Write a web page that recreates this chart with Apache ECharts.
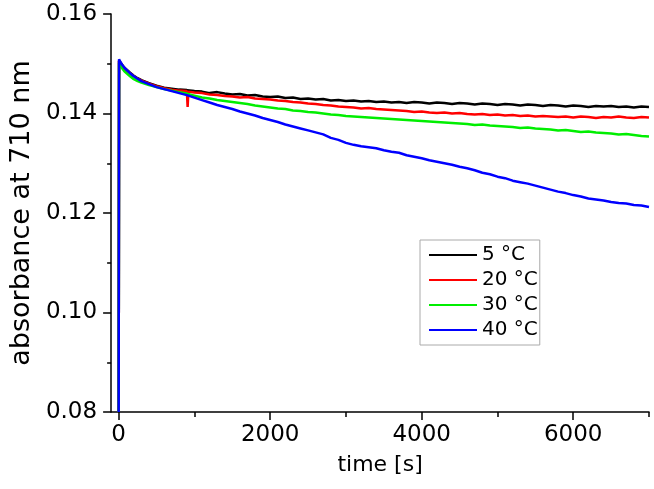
<!DOCTYPE html>
<html>
<head>
<meta charset="utf-8">
<script src="https://cdn.jsdelivr.net/npm/echarts@6/dist/echarts.min.js"></script>
<style>
html,body{margin:0;padding:0;background:#fff;}
#chart{width:654px;height:489px;}
</style>
</head>
<body>
<div id="chart"></div>
<script>
// time [s]
const times = [0,5,25,50,75,100,150,200,250,300,400,500,600,700,800,900,910,920,
1000,1100,1200,1300,1400,1500,1600,1700,1800,1900,
2000,2100,2200,2300,2400,2500,2600,2700,2800,2900,
3000,3100,3200,3300,3400,3500,3600,3700,3800,3900,
4000,4100,4200,4300,4400,4500,4600,4700,4800,4900,
5000,5100,5200,5300,5400,5500,5600,5700,5800,5900,
6000,6100,6200,6300,6400,6500,6600,6700,6800,6900,7000];

const seriesNames = ['5 °C','20 °C','30 °C','40 °C'];

const abs5 = [0.0800,0.1506,0.1502,0.1497,0.1492,0.1488,0.1482,0.1476,0.1471,0.1467,0.1461,0.1456,0.1452,0.1450,0.1448,0.1447,0.1446,0.1447,
0.1445,0.1444,0.1441,0.1443,0.1440,0.1438,0.1439,0.1436,0.1437,0.1434,
0.1433,0.1434,0.1431,0.1432,0.1429,0.1430,0.1428,0.1429,0.1426,0.1427,
0.1425,0.1426,0.1424,0.1425,0.1423,0.1424,0.1422,0.1423,0.1421,0.1423,
0.1422,0.1420,0.1422,0.1421,0.1419,0.1421,0.1420,0.1418,0.1420,0.1419,
0.1417,0.1419,0.1418,0.1416,0.1418,0.1417,0.1415,0.1417,0.1416,0.1414,
0.1416,0.1415,0.1413,0.1415,0.1414,0.1415,0.1413,0.1414,0.1412,0.1414,0.1413];

const abs20 = [0.0800,0.1506,0.1501,0.1496,0.1491,0.1487,0.1481,0.1475,0.1470,0.1466,0.1460,0.1455,0.1451,0.1448,0.1446,0.1445,0.1413,0.1444,
0.1442,0.1441,0.1438,0.1437,0.1435,0.1434,0.1432,0.1433,0.1430,0.1429,
0.1428,0.1426,0.1425,0.1423,0.1422,0.1420,0.1419,0.1417,0.1416,0.1414,
0.1413,0.1412,0.1410,0.1411,0.1409,0.1408,0.1407,0.1406,0.1405,0.1403,
0.1404,0.1402,0.1401,0.1402,0.1400,0.1401,0.1399,0.1398,0.1399,0.1397,
0.1398,0.1396,0.1397,0.1395,0.1396,0.1394,0.1395,0.1394,0.1393,0.1394,
0.1392,0.1394,0.1393,0.1391,0.1393,0.1392,0.1394,0.1392,0.1391,0.1393,0.1392];

const abs30 = [0.0800,0.1502,0.1496,0.1490,0.1485,0.1481,0.1475,0.1469,0.1465,0.1462,0.1457,0.1453,0.1449,0.1446,0.1443,0.1440,0.1439,0.1440,
0.1436,0.1432,0.1430,0.1427,0.1425,0.1423,0.1421,0.1419,0.1416,0.1414,
0.1412,0.1410,0.1409,0.1406,0.1405,0.1403,0.1402,0.1400,0.1398,0.1397,
0.1395,0.1394,0.1393,0.1392,0.1391,0.1390,0.1389,0.1388,0.1387,0.1386,
0.1385,0.1384,0.1383,0.1382,0.1381,0.1380,0.1379,0.1377,0.1378,0.1376,
0.1375,0.1374,0.1373,0.1371,0.1372,0.1370,0.1369,0.1368,0.1366,0.1367,
0.1365,0.1363,0.1364,0.1362,0.1361,0.1360,0.1358,0.1359,0.1357,0.1355,0.1354];

const abs40 = [0.0800,0.1509,0.1503,0.1497,0.1492,0.1488,0.1481,0.1475,0.1470,0.1465,0.1459,0.1453,0.1449,0.1445,0.1441,0.1437,0.1436,0.1436,
0.1432,0.1427,0.1422,0.1417,0.1413,0.1409,0.1404,0.1400,0.1396,0.1391,
0.1387,0.1383,0.1378,0.1374,0.1370,0.1366,0.1362,0.1358,0.1351,0.1347,
0.1341,0.1337,0.1334,0.1332,0.1330,0.1326,0.1323,0.1321,0.1316,0.1313,
0.1310,0.1306,0.1303,0.1300,0.1297,0.1293,0.1290,0.1286,0.1281,0.1278,
0.1273,0.1270,0.1265,0.1262,0.1259,0.1255,0.1251,0.1247,0.1243,0.1240,
0.1236,0.1233,0.1229,0.1227,0.1225,0.1222,0.1220,0.1219,0.1216,0.1215,0.1212];

const seriesValues = [abs5, abs20, abs30, abs40];
const seriesColors = ['#000000','#ff0000','#00ee00','#0000ff'];

const xMajorTicks = [0,2000,4000,6000];
const xMinorTicks = [1000,3000,5000,7000];

const FONT = 'DejaVu Sans';

const chart = echarts.init(document.getElementById('chart'), null, {renderer:'canvas'});

const option = {
  animation: false,
  backgroundColor: '#ffffff',
  textStyle: {fontFamily: FONT},
  grid: {left: 109, right: 5, top: 14, bottom: 77, containLabel: false},
  legend: {
    orient: 'vertical',
    left: 420,
    top: 240,
    padding: [5, 2, 5, 8],
    itemGap: 5,
    itemWidth: 48,
    itemHeight: 20,
    borderColor: '#aaaaaa',
    borderWidth: 1,
    backgroundColor: '#ffffff',
    itemStyle: {opacity: 0},
    textStyle: {fontFamily: FONT, fontSize: 20, color: '#000', lineHeight: 20},
    data: seriesNames
  },
  xAxis: [{
    type: 'value',
    min: -100,
    max: 7000,
    position: 'bottom',
    name: 'time [s]',
    nameLocation: 'middle',
    nameGap: 42,
    nameTextStyle: {fontFamily: FONT, fontSize: 22, color: '#000'},
    axisLine: {show: true, onZero: false, lineStyle: {color: '#000', width: 1.5}},
    axisTick: {show: true, inside: false, length: 8, customValues: xMajorTicks, lineStyle: {color: '#000', width: 1.5}},
    axisLabel: {show: true, margin: 12, customValues: xMajorTicks, fontFamily: FONT, fontSize: 23, color: '#000',
      formatter: function (v) { return String(Math.round(v)); }},
    splitLine: {show: false}
  }, {
    type: 'value',
    min: -100,
    max: 7000,
    position: 'bottom',
    axisLine: {show: false, onZero: false},
    axisTick: {show: true, inside: false, length: 5, customValues: xMinorTicks, lineStyle: {color: '#000', width: 1.5}},
    axisLabel: {show: false},
    splitLine: {show: false}
  }],
  yAxis: {
    type: 'value',
    min: 0.08,
    max: 0.16,
    interval: 0.02,
    name: 'absorbance at 710 nm',
    nameLocation: 'middle',
    nameGap: 72,
    nameTextStyle: {fontFamily: FONT, fontSize: 27, color: '#000'},
    axisLine: {show: true, onZero: false, lineStyle: {color: '#000', width: 1.5}},
    axisTick: {show: true, inside: false, length: 8, lineStyle: {color: '#000', width: 1.5}},
    minorTick: {show: true, splitNumber: 2, length: 4, lineStyle: {color: '#000', width: 1.5}},
    axisLabel: {show: true, margin: 14, fontFamily: FONT, fontSize: 23, color: '#000',
      formatter: function (v) { return v.toFixed(2); }},
    splitLine: {show: false},
    minorSplitLine: {show: false}
  },
  series: seriesNames.map(function (name, k) {
    return {
      name: name,
      type: 'line',
      xAxisIndex: 0,
      yAxisIndex: 0,
      symbol: 'none',
      showSymbol: false,
      color: seriesColors[k],
      lineStyle: {color: seriesColors[k], width: 2.5},
      data: times.map(function (t, i) { return [t, seriesValues[k][i]]; })
    };
  })
};

chart.setOption(option);
</script>
</body>
</html>
